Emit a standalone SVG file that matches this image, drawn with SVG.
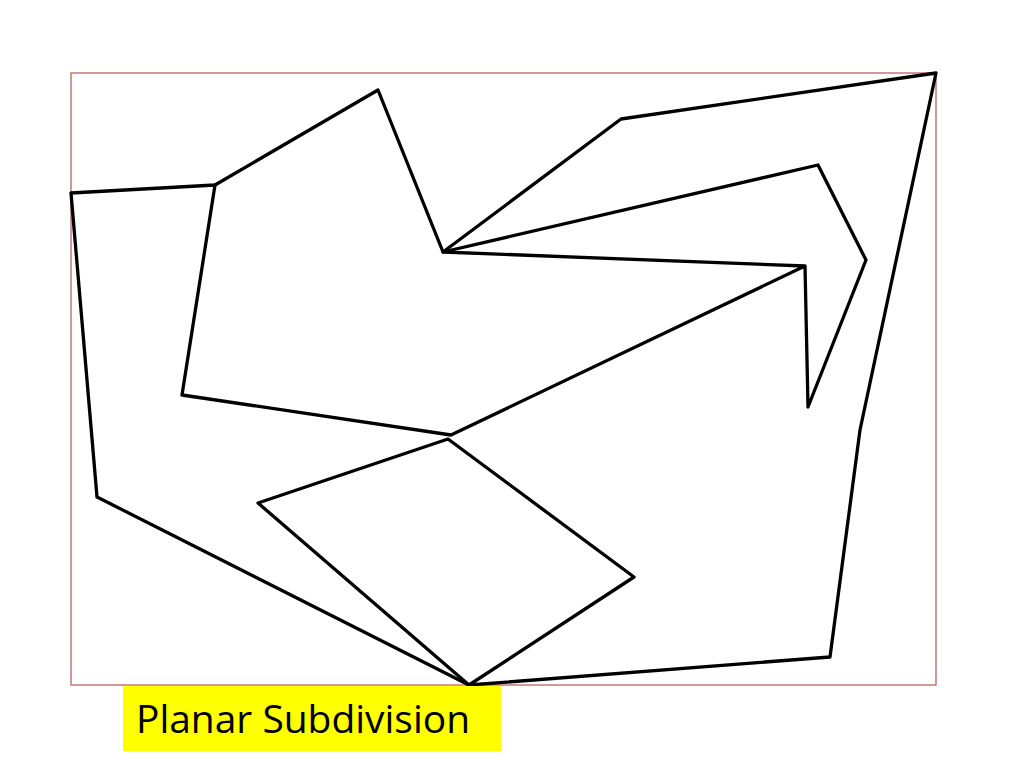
<svg xmlns="http://www.w3.org/2000/svg" width="1024" height="768" viewBox="0 0 1024 768">
<style>
.e{stroke:#000;stroke-width:3.3;fill:none;stroke-linejoin:round;stroke-linecap:round}
.lbl{font-family:"Open Sans","Liberation Sans",sans-serif;font-size:38px;fill:#000}
</style>
<rect width="1024" height="768" fill="#fff"/>
<rect id="frame" x="71" y="73" width="865" height="612" fill="none" stroke="#b85450" stroke-width="1.2"/>
<g id="edges" class="e">
<polyline points="97,497 71,193 215,185 378,90 443,252 621,119 936,73 860,430 830,657 469,685 97,497"/>
<polyline points="215,185 182,395 451,435 805,266 443,252 818,165 866,260 808,407 805,266"/>
<polygon points="448,439 258,503 469,685 634,577"/>
</g>
<g id="label">
<rect x="123" y="686" width="378" height="65" fill="#ffff00"/>
<text class="lbl" x="136" y="733" textLength="334" lengthAdjust="spacingAndGlyphs">Planar Subdivision</text>
</g>
</svg>
